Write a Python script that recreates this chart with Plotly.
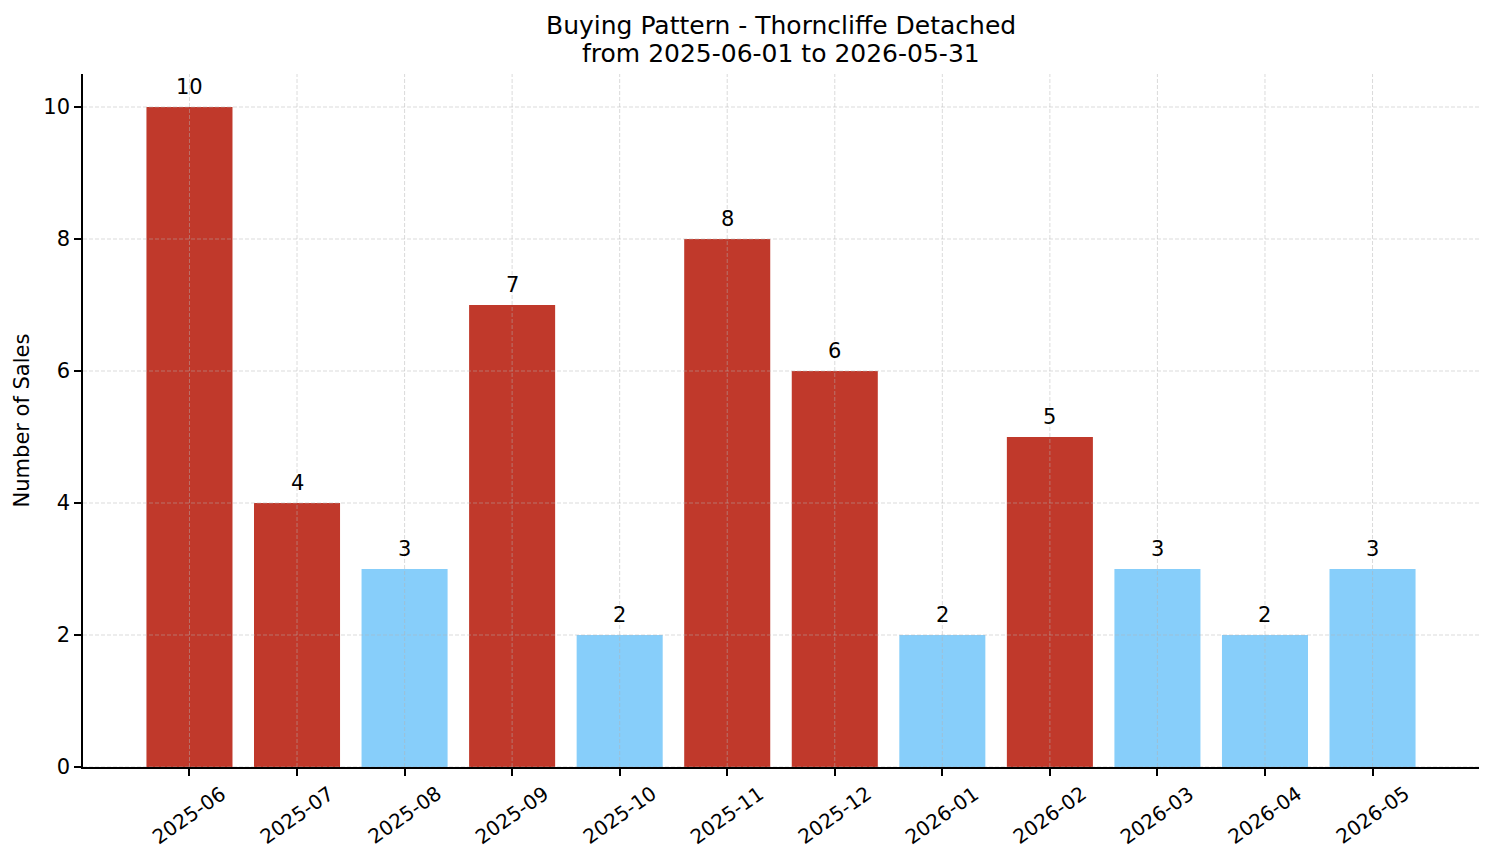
import plotly.graph_objects as go

months = ["2025-06", "2025-07", "2025-08", "2025-09", "2025-10", "2025-11",
          "2025-12", "2026-01", "2026-02", "2026-03", "2026-04", "2026-05"]
sales = [10, 4, 3, 7, 2, 8, 6, 2, 5, 3, 2, 3]
y_ticks = [0, 2, 4, 6, 8, 10]
title_lines = ["Buying Pattern - Thorncliffe Detached", "from 2025-06-01 to 2026-05-31"]

RED = "#C0392B"
BLUE = "#87CEFA"
colors = [RED if v >= 4 else BLUE for v in sales]
xs = list(range(len(months)))

FONT = "DejaVu Sans"

fig = go.Figure()
fig.add_trace(go.Bar(
    x=xs, y=sales, width=0.8, marker=dict(color=colors, line=dict(width=0)),
    hoverinfo="skip",
))

# value labels above bars
for x, v in zip(xs, sales):
    fig.add_annotation(x=x, xref="x", y=v, yref="y", yshift=6,
                       text=str(v), showarrow=False,
                       xanchor="center", yanchor="bottom",
                       font=dict(family=FONT, size=21, color="black"))

# dashed grid drawn above bars (as in reference)
grid_style = dict(color="rgba(180,180,180,0.6)", width=0.8, dash="4px,2px")
for x in xs:
    fig.add_shape(type="line", xref="x", yref="paper", x0=x, x1=x, y0=0, y1=1,
                  line=grid_style, layer="above")
for t in y_ticks:
    fig.add_shape(type="line", xref="paper", yref="y", x0=0, x1=1, y0=t, y1=t,
                  line=grid_style, layer="above")

# rotated, centred month labels
for x, m in zip(xs, months):
    fig.add_annotation(x=x, xref="x", y=0, yref="paper", yshift=-48,
                       text=m, showarrow=False, textangle=-35,
                       xanchor="center", yanchor="middle",
                       font=dict(family=FONT, size=20, color="black"))

# title (two lines)
for line, shift in zip(title_lines, [49, 21]):
    fig.add_annotation(x=0.5, xref="paper", y=1, yref="paper", yshift=shift,
                       xanchor="center", yanchor="middle", showarrow=False,
                       text=line, font=dict(family=FONT, size=25, color="black"))

fig.update_layout(
    width=1494, height=863,
    margin=dict(l=83, r=15, t=74, b=96),
    paper_bgcolor="white", plot_bgcolor="white",
    showlegend=False,
    font=dict(family=FONT, color="black"),
)
fig.update_xaxes(
    range=[-0.99, 11.99], tickmode="array", tickvals=xs, ticktext=["" for _ in months],
    showgrid=False, zeroline=False,
    showline=True, linecolor="black", linewidth=1.5,
    ticks="outside", ticklen=7, tickwidth=1.5, tickcolor="black",
    layer="above traces",
)
fig.update_yaxes(
    range=[0, 10.5], tickmode="array", tickvals=y_ticks,
    tickfont=dict(family=FONT, size=21, color="black"),
    showgrid=False, zeroline=False,
    showline=True, linecolor="black", linewidth=1.5,
    ticks="outside", ticklen=7, tickwidth=1.5, tickcolor="black",
    title=dict(text="Number of Sales", font=dict(family=FONT, size=21, color="black"), standoff=8),
    layer="above traces",
)

fig.write_html("out.html")
